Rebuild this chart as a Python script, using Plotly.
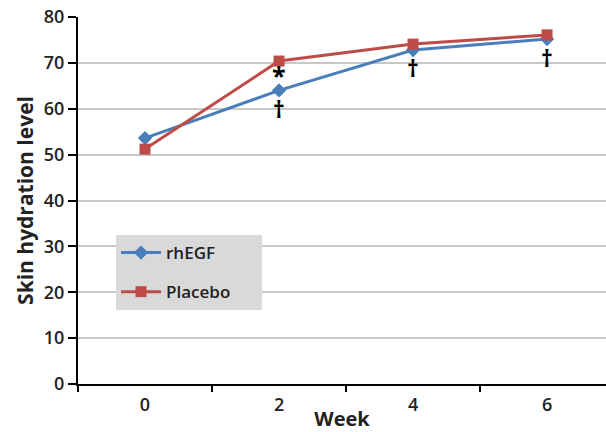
import plotly.graph_objects as go

weeks = ["0", "2", "4", "6"]
rhegf = [53.6, 64.0, 72.8, 75.2]
placebo = [51.2, 70.4, 74.1, 76.1]
series_names = ["rhEGF", "Placebo"]

# significance marks: (week, y, text)
mark_week = ["2", "2", "4", "6"]
mark_y = [67.4, 59.9, 68.9, 71.1]
mark_text = ["*", "†", "†", "†"]

blue = "#4a7ebb"
red = "#be4b48"
font_family = "Open Sans, Liberation Sans, sans-serif"
pad = "&nbsp;" * 6  # widen legend box

fig = go.Figure()
fig.add_trace(go.Scatter(
    x=weeks, y=rhegf, name=series_names[0], mode="lines+markers",
    line=dict(color=blue, width=3),
    marker=dict(symbol="diamond", size=11, color=blue),
    legendgroup="a",
))
fig.add_trace(go.Scatter(
    x=weeks, y=placebo, name=series_names[1] + pad, mode="lines+markers",
    line=dict(color=red, width=3),
    marker=dict(symbol="square", size=11, color=red),
    legendgroup="b",
))

for wk, yy, tt in zip(mark_week, mark_y, mark_text):
    fig.add_annotation(x=weeks.index(wk), y=yy, text=tt, showarrow=False,
                       font=dict(size=25 if tt == "*" else 23, color="black",
                                 family=font_family, weight="bold"))

fig.update_layout(
    width=606, height=432,
    margin=dict(l=78, r=0, t=17, b=48),
    paper_bgcolor="white", plot_bgcolor="white",
    font=dict(family=font_family, color="#222222"),
    legend=dict(
        x=0.072, y=0.406, xanchor="left", yanchor="top",
        bgcolor="#d9d9d9", font=dict(size=17, family=font_family, weight=600, color="#222"),
        traceorder="grouped", tracegroupgap=14, itemwidth=40,
        borderwidth=0,
    ),
    xaxis=dict(
        type="category", range=[-0.5, 3.44],
        showline=True, linecolor="black", linewidth=2,
        ticks="outside", ticklen=6, tickwidth=2, tickcolor="black",
        tickson="boundaries", showgrid=False,
        tickfont=dict(size=18, weight=600), ticklabelstandoff=3,
        title=dict(text="Week", font=dict(size=20, weight="bold"), standoff=2),
    ),
    yaxis=dict(
        range=[0, 80], dtick=10,
        showline=True, linecolor="black", linewidth=2,
        ticks="outside", ticklen=8, tickwidth=2, tickcolor="black",
        showgrid=True, gridcolor="#c8c8c8", gridwidth=1.5,
        zeroline=False,
        tickfont=dict(size=18, weight=600),
        title=dict(text="Skin hydration level", font=dict(size=21, weight="bold"), standoff=4),
    ),
)

fig.write_html("out.html", config={"displayModeBar": False},
               post_script="document.body.style.margin='0px';document.body.style.padding='0px';document.body.style.overflow='hidden';")
